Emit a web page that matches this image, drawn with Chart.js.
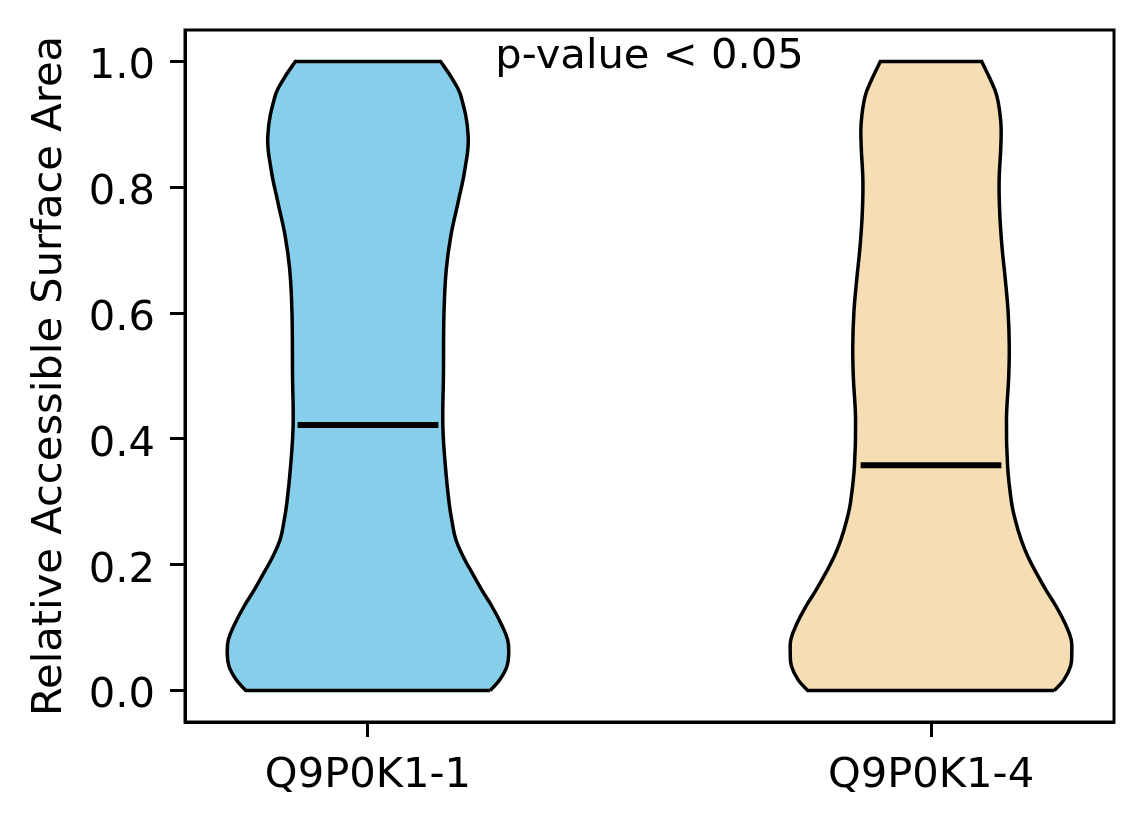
<!DOCTYPE html>
<html>
<head>
<meta charset="utf-8">
<title>Relative Accessible Surface Area</title>
<script src="https://cdn.jsdelivr.net/npm/chart.js@4.4.0/dist/chart.umd.min.js"></script>
<style>
  html, body { margin: 0; padding: 0; background: #fff; }
  #wrap { width: 1144px; height: 824px; }
</style>
</head>
<body>
<div id="wrap"><canvas id="violinChart"></canvas></div>
<script>
// isoforms on the x axis, drawn at positions 1 and 2
const categories = ['Q9P0K1-1', 'Q9P0K1-4'];
const positions = [1, 2];

// violin outlines: RSA level -> half width (x units)
const levelsA = [0, 0.017, 0.039, 0.060, 0.081, 0.107, 0.134, 0.160, 0.187, 0.213, 0.240, 0.270,
                 0.299, 0.351, 0.420, 0.499, 0.601, 0.669, 0.722, 0.776, 0.828, 0.881, 0.945, 0.972, 1.0];
const halfWidthsA = [0.217, 0.234, 0.247, 0.250, 0.248, 0.236, 0.220, 0.202, 0.185, 0.169, 0.156, 0.149,
                     0.144, 0.138, 0.133, 0.134, 0.135, 0.139, 0.147, 0.160, 0.172, 0.178, 0.165, 0.150, 0.129];

const levelsB = [0, 0.017, 0.039, 0.060, 0.081, 0.107, 0.134, 0.160, 0.187, 0.213, 0.240, 0.270, 0.299,
                 0.357, 0.431, 0.499, 0.547, 0.601, 0.653, 0.706, 0.760, 0.812, 0.865, 0.903, 0.945, 0.972, 1.0];
const halfWidthsB = [0.219, 0.236, 0.248, 0.250, 0.249, 0.238, 0.222, 0.204, 0.187, 0.172, 0.160, 0.150, 0.143,
                     0.136, 0.134, 0.138, 0.139, 0.137, 0.132, 0.126, 0.122, 0.121, 0.124, 0.124, 0.117, 0.105, 0.090];

const medians = [0.422, 0.358];

const yTicks = [0, 0.2, 0.4, 0.6, 0.8, 1.0];
const pValueText = 'p-value < 0.05';
const notePosition = [1.5, 0.99];

const fillColors = ['#87ceeb', '#f5deb3'];
const violinWidth = 0.5;
const fontFamily = '"DejaVu Sans", sans-serif';
const fontSize = 41.67;

Chart.defaults.font.family = fontFamily;
Chart.defaults.color = '#000';

// closed outline: right side up, left side down; corners doubled so the cut ends stay sharp
function outline(pos, levels, widths) {
    const right = levels.map((y, i) => ({ x: pos + widths[i], y: y }));
    const left = levels.map((y, i) => ({ x: pos - widths[i], y: y })).reverse();
    return [...right, right[right.length - 1], left[0], ...left, left[left.length - 1], right[0]];
}

const violins = [
    { levels: levelsA, widths: halfWidthsA },
    { levels: levelsB, widths: halfWidthsB }
];

const datasets = [];
violins.forEach((v, k) => {
    datasets.push({
        label: categories[k],
        data: outline(positions[k], v.levels, v.widths),
        showLine: true,
        fill: 'shape',
        backgroundColor: fillColors[k],
        borderColor: '#000',
        borderWidth: 3.5,
        borderJoinStyle: 'miter',
        tension: 0.4,
        pointRadius: 0,
        pointHoverRadius: 0,
        order: 1
    });
    datasets.push({
        label: categories[k] + ' median',
        data: [
            { x: positions[k] - violinWidth / 4, y: medians[k] },
            { x: positions[k] + violinWidth / 4, y: medians[k] }
        ],
        showLine: true,
        fill: false,
        borderColor: '#000',
        borderWidth: 6,
        pointRadius: 0,
        pointHoverRadius: 0,
        order: 0
    });
});

// full box around the plot area
const framePlugin = {
    id: 'frame',
    afterDraw(chart) {
        const { ctx, chartArea: a } = chart;
        ctx.save();
        ctx.strokeStyle = '#000';
        ctx.lineWidth = 3;
        ctx.strokeRect(a.left, a.top, a.right - a.left, a.bottom - a.top);
        ctx.restore();
    }
};

// p-value note placed in data coordinates
const notePlugin = {
    id: 'note',
    afterDatasetsDraw(chart) {
        const { ctx, scales } = chart;
        ctx.save();
        ctx.font = fontSize + 'px ' + fontFamily;
        ctx.fillStyle = '#000';
        ctx.textAlign = 'center';
        ctx.textBaseline = 'alphabetic';
        ctx.fillText(pValueText,
            scales.x.getPixelForValue(notePosition[0]),
            scales.y.getPixelForValue(notePosition[1]));
        ctx.restore();
    }
};

const ctx = document.getElementById('violinChart').getContext('2d');
const chart = new Chart(ctx, {
    type: 'scatter',
    data: { datasets: datasets },
    options: {
        responsive: true,
        maintainAspectRatio: false,
        animation: false,
        devicePixelRatio: 1,
        layout: { padding: { left: 0, top: 30, right: 30, bottom: 0 } },
        plugins: {
            legend: { display: false },
            tooltip: { enabled: false }
        },
        scales: {
            x: {
                type: 'linear',
                min: 0.675,
                max: 2.325,
                afterBuildTicks: (scale) => { scale.ticks = positions.map(v => ({ value: v })); },
                afterFit: (scale) => {
                    scale.height = 102;
                    scale.paddingLeft = 0;
                    scale.paddingRight = 0;
                },
                ticks: {
                    callback: (value) => categories[positions.indexOf(value)],
                    font: { size: fontSize },
                    color: '#000',
                    padding: 14,
                    maxRotation: 0,
                    autoSkip: false
                },
                grid: {
                    drawOnChartArea: false,
                    drawTicks: true,
                    tickLength: 15,
                    tickWidth: 3,
                    tickColor: '#000'
                },
                border: { display: true, color: '#000', width: 3 }
            },
            y: {
                type: 'linear',
                min: -0.05,
                max: 1.05,
                afterBuildTicks: (scale) => { scale.ticks = yTicks.map(v => ({ value: v })); },
                afterFit: (scale) => {
                    scale.width = 185;
                    scale.paddingTop = 0;
                    scale.paddingBottom = 0;
                },
                ticks: {
                    callback: (value) => value.toFixed(1),
                    font: { size: fontSize },
                    color: '#000',
                    padding: 15,
                    labelOffset: 6,
                    autoSkip: false
                },
                grid: {
                    drawOnChartArea: false,
                    drawTicks: true,
                    tickLength: 15,
                    tickWidth: 3,
                    tickColor: '#000'
                },
                border: { display: true, color: '#000', width: 3 },
                title: {
                    display: true,
                    text: 'Relative Accessible Surface Area',
                    font: { size: fontSize },
                    color: '#000',
                    padding: { top: 25, bottom: 0 }
                }
            }
        }
    },
    plugins: [framePlugin, notePlugin]
});
</script>
</body>
</html>
